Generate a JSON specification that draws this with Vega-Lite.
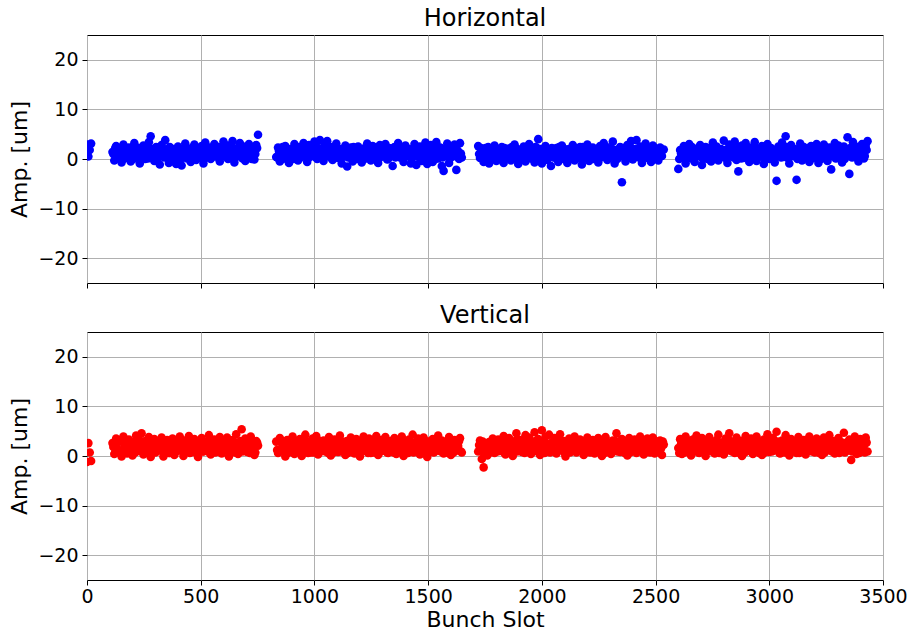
{
"$schema":"https://vega.github.io/schema/vega-lite/v6.json",
"padding":{"left":8,"top":6,"right":0,"bottom":0},
"config":{"font":"DejaVu Sans","view":{"stroke":"black","strokeWidth":1},
"axis":{"gridColor":"#b0b0b0","gridWidth":1,"domainColor":"black","tickColor":"black","labelColor":"black","titleColor":"black","labelFontSize":19,"titleFontSize":22,"titleFontWeight":"normal","tickSize":5,"labelPadding":4,"domain":false,"format":"d","labelFlush":false},
"title":{"fontSize":24,"fontWeight":"normal","color":"black","offset":4,"baseline":"alphabetic"}},
"data":{"values":[
{"x":0,"h":2.9,"v":-1.2},{"x":6,"h":0.5,"v":2.6},{"x":12,"h":1.8,"v":0.7},{"x":18,"h":3.1,"v":-1.0},
{"x":112,"h":1.4,"v":2.6},{"x":120,"h":-0.3,"v":0.4},{"x":128,"h":2.6,"v":3.5},{"x":136,"h":0.6,"v":1.2},{"x":144,"h":1.9,"v":3.1},{"x":152,"h":-0.7,"v":-0.1},{"x":160,"h":2.9,"v":3.9},{"x":168,"h":0.2,"v":1.8},{"x":176,"h":1.6,"v":0.5},{"x":184,"h":2.3,"v":3.3},{"x":192,"h":-0.5,"v":2.2},{"x":200,"h":1.1,"v":0.1},{"x":208,"h":3.2,"v":2.8},{"x":216,"h":0.4,"v":4.1},{"x":224,"h":2.0,"v":1.0},{"x":232,"h":-0.9,"v":2.5},{"x":240,"h":1.5,"v":4.6},{"x":248,"h":2.7,"v":0.3},{"x":256,"h":0.0,"v":3.0},{"x":264,"h":1.8,"v":1.5},{"x":272,"h":3.4,"v":3.8},{"x":280,"h":4.6,"v":-0.2},{"x":288,"h":0.9,"v":2.0},{"x":296,"h":-0.4,"v":3.4},{"x":304,"h":2.4,"v":0.8},{"x":312,"h":1.2,"v":2.7},{"x":320,"h":-1.1,"v":1.3},{"x":328,"h":2.8,"v":3.7},{"x":336,"h":0.5,"v":-0.1},{"x":344,"h":3.8,"v":2.3},{"x":352,"h":1.6,"v":3.2},{"x":360,"h":-0.8,"v":0.6},{"x":368,"h":2.2,"v":1.9},{"x":376,"h":0.3,"v":3.5},{"x":384,"h":1.4,"v":0.2},{"x":392,"h":-1.0,"v":2.9},{"x":400,"h":2.5,"v":1.1},{"x":408,"h":0.7,"v":3.9},{"x":416,"h":-1.3,"v":2.4},{"x":424,"h":1.9,"v":0.0},{"x":432,"h":3.1,"v":3.1},{"x":440,"h":0.1,"v":1.6},{"x":448,"h":2.1,"v":4.0},{"x":456,"h":-0.6,"v":0.7},{"x":464,"h":1.3,"v":2.6},{"x":472,"h":2.9,"v":3.4},{"x":480,"h":-0.2,"v":1.4},{"x":488,"h":1.7,"v":-0.2},{"x":496,"h":0.4,"v":2.1},{"x":504,"h":2.6,"v":3.6},{"x":512,"h":-0.9,"v":0.9},{"x":520,"h":3.3,"v":2.8},{"x":528,"h":1.0,"v":1.7},{"x":536,"h":2.3,"v":4.2},{"x":544,"h":0.0,"v":0.3},{"x":552,"h":1.8,"v":2.4},{"x":560,"h":3.0,"v":3.3},{"x":568,"h":0.6,"v":1.0},{"x":576,"h":2.4,"v":2.0},{"x":584,"h":-0.5,"v":3.8},{"x":592,"h":1.5,"v":0.5},{"x":600,"h":3.5,"v":2.9},{"x":608,"h":0.8,"v":1.5},{"x":616,"h":2.7,"v":3.7},{"x":624,"h":0.2,"v":-0.1},{"x":632,"h":1.9,"v":2.2},{"x":640,"h":3.6,"v":3.2},{"x":648,"h":-0.7,"v":1.2},{"x":656,"h":2.0,"v":4.4},{"x":664,"h":1.1,"v":0.4},{"x":672,"h":3.2,"v":2.7},{"x":680,"h":0.3,"v":5.4},{"x":688,"h":2.5,"v":1.8},{"x":696,"h":-0.4,"v":3.5},{"x":704,"h":1.6,"v":0.8},{"x":712,"h":3.0,"v":2.5},{"x":720,"h":0.6,"v":3.9},{"x":728,"h":2.2,"v":1.3},{"x":736,"h":-0.1,"v":0.2},{"x":744,"h":2.8,"v":3.0},{"x":752,"h":4.9,"v":2.1},
{"x":832,"h":0.4,"v":2.9},{"x":840,"h":2.3,"v":0.6},{"x":848,"h":-0.5,"v":3.6},{"x":856,"h":1.6,"v":1.5},{"x":864,"h":0.1,"v":2.4},{"x":872,"h":2.6,"v":-0.1},{"x":880,"h":1.0,"v":3.2},{"x":888,"h":-0.8,"v":1.1},{"x":896,"h":2.0,"v":2.0},{"x":904,"h":0.7,"v":3.9},{"x":912,"h":3.0,"v":0.4},{"x":920,"h":1.3,"v":2.6},{"x":928,"h":-0.3,"v":1.7},{"x":936,"h":2.4,"v":3.4},{"x":944,"h":0.9,"v":0.0},{"x":952,"h":3.2,"v":2.2},{"x":960,"h":1.7,"v":4.3},{"x":968,"h":-0.6,"v":1.3},{"x":976,"h":2.8,"v":2.9},{"x":984,"h":0.5,"v":0.7},{"x":992,"h":1.9,"v":3.5},{"x":1000,"h":3.5,"v":1.9},{"x":1008,"h":0.3,"v":4.0},{"x":1016,"h":2.2,"v":0.3},{"x":1024,"h":3.8,"v":2.7},{"x":1032,"h":1.1,"v":1.4},{"x":1040,"h":-0.4,"v":3.1},{"x":1048,"h":2.9,"v":0.9},{"x":1056,"h":3.6,"v":2.3},{"x":1064,"h":0.8,"v":3.8},{"x":1072,"h":2.4,"v":0.1},{"x":1080,"h":-0.2,"v":1.8},{"x":1088,"h":1.5,"v":3.3},{"x":1096,"h":3.1,"v":2.5},{"x":1104,"h":0.2,"v":0.8},{"x":1112,"h":2.0,"v":4.1},{"x":1120,"h":-0.9,"v":1.6},{"x":1128,"h":1.4,"v":2.8},{"x":1136,"h":2.7,"v":0.2},{"x":1144,"h":-1.5,"v":3.0},{"x":1152,"h":0.6,"v":1.2},{"x":1160,"h":2.3,"v":3.7},{"x":1168,"h":-0.5,"v":2.1},{"x":1176,"h":1.8,"v":0.5},{"x":1184,"h":0.0,"v":3.4},{"x":1192,"h":2.5,"v":1.9},{"x":1200,"h":1.0,"v":-0.1},{"x":1208,"h":-0.7,"v":2.6},{"x":1216,"h":2.1,"v":3.9},{"x":1224,"h":0.4,"v":1.0},{"x":1232,"h":3.1,"v":2.3},{"x":1240,"h":1.3,"v":3.5},{"x":1248,"h":-0.3,"v":0.6},{"x":1256,"h":2.6,"v":2.9},{"x":1264,"h":0.8,"v":1.5},{"x":1272,"h":1.9,"v":4.0},{"x":1280,"h":-0.8,"v":0.2},{"x":1288,"h":2.8,"v":2.4},{"x":1296,"h":0.5,"v":3.2},{"x":1304,"h":1.7,"v":1.1},{"x":1312,"h":3.0,"v":3.8},{"x":1320,"h":-0.1,"v":0.7},{"x":1328,"h":2.2,"v":2.0},{"x":1336,"h":0.9,"v":3.0},{"x":1344,"h":-1.4,"v":1.3},{"x":1352,"h":2.4,"v":3.6},{"x":1360,"h":1.2,"v":0.4},{"x":1368,"h":3.2,"v":2.6},{"x":1376,"h":0.3,"v":1.7},{"x":1384,"h":1.8,"v":3.9},{"x":1392,"h":-0.6,"v":0.0},{"x":1400,"h":2.7,"v":2.8},{"x":1408,"h":0.6,"v":1.9},{"x":1416,"h":2.0,"v":3.3},{"x":1424,"h":-0.9,"v":0.9},{"x":1432,"h":1.4,"v":4.3},{"x":1440,"h":3.0,"v":2.2},{"x":1448,"h":-1.2,"v":1.0},{"x":1456,"h":0.7,"v":3.5},{"x":1464,"h":2.5,"v":0.3},{"x":1472,"h":-0.4,"v":2.5},{"x":1480,"h":1.6,"v":3.7},{"x":1488,"h":3.3,"v":1.4},{"x":1496,"h":-1.0,"v":-0.2},{"x":1504,"h":0.9,"v":2.9},{"x":1512,"h":2.8,"v":1.8},{"x":1520,"h":-0.6,"v":3.4},{"x":1528,"h":1.9,"v":0.8},{"x":1536,"h":3.4,"v":2.4},{"x":1544,"h":0.1,"v":4.1},{"x":1552,"h":2.3,"v":1.2},{"x":1560,"h":-1.4,"v":3.1},{"x":1568,"h":-2.4,"v":0.5},{"x":1576,"h":1.2,"v":2.7},{"x":1584,"h":3.1,"v":1.6},{"x":1592,"h":-0.8,"v":3.8},{"x":1600,"h":2.0,"v":0.2},{"x":1608,"h":0.5,"v":2.3},{"x":1616,"h":2.9,"v":3.2},{"x":1624,"h":-2.2,"v":1.1},{"x":1632,"h":1.5,"v":2.0},{"x":1640,"h":3.2,"v":3.6},{"x":1648,"h":0.3,"v":0.7},
{"x":1720,"h":2.6,"v":0.9},{"x":1728,"h":0.2,"v":3.1},{"x":1736,"h":1.5,"v":-0.6},{"x":1744,"h":-0.6,"v":-2.3},{"x":1752,"h":2.2,"v":2.2},{"x":1760,"h":0.8,"v":0.1},{"x":1768,"h":-0.9,"v":2.8},{"x":1776,"h":1.9,"v":1.4},{"x":1784,"h":0.3,"v":3.5},{"x":1792,"h":2.7,"v":0.6},{"x":1800,"h":-0.4,"v":2.0},{"x":1808,"h":1.2,"v":3.3},{"x":1816,"h":0.0,"v":1.0},{"x":1824,"h":2.4,"v":2.6},{"x":1832,"h":-0.8,"v":4.0},{"x":1840,"h":1.6,"v":0.3},{"x":1848,"h":0.5,"v":2.4},{"x":1856,"h":2.1,"v":3.6},{"x":1864,"h":-0.3,"v":1.5},{"x":1872,"h":1.0,"v":0.0},{"x":1880,"h":2.9,"v":2.9},{"x":1888,"h":0.4,"v":4.6},{"x":1896,"h":-1.0,"v":1.8},{"x":1904,"h":1.8,"v":3.2},{"x":1912,"h":0.7,"v":0.8},{"x":1920,"h":2.5,"v":2.3},{"x":1928,"h":-0.5,"v":4.2},{"x":1936,"h":1.3,"v":1.2},{"x":1944,"h":3.0,"v":3.7},{"x":1952,"h":0.1,"v":0.4},{"x":1960,"h":1.7,"v":2.7},{"x":1968,"h":-0.7,"v":4.8},{"x":1976,"h":2.3,"v":1.6},{"x":1984,"h":4.0,"v":3.4},{"x":1992,"h":0.6,"v":0.2},{"x":2000,"h":-0.9,"v":5.2},{"x":2008,"h":1.4,"v":2.1},{"x":2016,"h":2.6,"v":3.9},{"x":2024,"h":-0.2,"v":0.9},{"x":2032,"h":0.9,"v":4.3},{"x":2040,"h":-1.4,"v":2.5},{"x":2048,"h":1.8,"v":1.3},{"x":2056,"h":0.3,"v":3.6},{"x":2064,"h":2.2,"v":0.5},{"x":2072,"h":-0.6,"v":2.8},{"x":2080,"h":1.1,"v":4.4},{"x":2088,"h":2.7,"v":1.7},{"x":2096,"h":0.0,"v":3.0},{"x":2104,"h":1.5,"v":-0.1},{"x":2112,"h":-0.8,"v":2.2},{"x":2120,"h":2.0,"v":3.5},{"x":2128,"h":0.7,"v":1.1},{"x":2136,"h":2.8,"v":2.6},{"x":2144,"h":-0.3,"v":3.9},{"x":2152,"h":1.3,"v":0.7},{"x":2160,"h":0.2,"v":2.3},{"x":2168,"h":2.4,"v":3.3},{"x":2176,"h":-1.1,"v":1.4},{"x":2184,"h":1.7,"v":0.2},{"x":2192,"h":0.5,"v":2.9},{"x":2200,"h":2.9,"v":3.7},{"x":2208,"h":-0.4,"v":1.0},{"x":2216,"h":1.0,"v":2.4},{"x":2224,"h":2.3,"v":3.2},{"x":2232,"h":0.1,"v":0.5},{"x":2240,"h":1.9,"v":2.0},{"x":2248,"h":-0.7,"v":3.6},{"x":2256,"h":2.6,"v":1.5},{"x":2264,"h":0.8,"v":0.0},{"x":2272,"h":3.2,"v":2.7},{"x":2280,"h":1.4,"v":3.8},{"x":2288,"h":-0.2,"v":1.2},{"x":2296,"h":2.1,"v":2.5},{"x":2304,"h":0.6,"v":0.4},{"x":2312,"h":3.5,"v":3.1},{"x":2320,"h":-0.9,"v":1.8},{"x":2328,"h":1.6,"v":4.6},{"x":2336,"h":0.3,"v":2.2},{"x":2344,"h":2.4,"v":0.8},{"x":2352,"h":-4.7,"v":3.4},{"x":2360,"h":1.2,"v":1.3},{"x":2368,"h":-0.5,"v":2.9},{"x":2376,"h":2.8,"v":0.1},{"x":2384,"h":0.9,"v":3.6},{"x":2392,"h":3.6,"v":2.0},{"x":2400,"h":-0.1,"v":1.0},{"x":2408,"h":1.8,"v":3.3},{"x":2416,"h":3.8,"v":0.6},{"x":2424,"h":0.4,"v":2.4},{"x":2432,"h":2.5,"v":3.9},{"x":2440,"h":-0.8,"v":1.6},{"x":2448,"h":1.3,"v":0.3},{"x":2456,"h":3.1,"v":2.8},{"x":2464,"h":0.2,"v":3.5},{"x":2472,"h":2.0,"v":1.1},{"x":2480,"h":-0.6,"v":2.2},{"x":2488,"h":2.7,"v":3.7},{"x":2496,"h":0.9,"v":0.5},{"x":2504,"h":1.6,"v":2.6},{"x":2512,"h":-0.3,"v":1.4},{"x":2520,"h":2.3,"v":3.1},{"x":2528,"h":0.6,"v":0.2},{"x":2536,"h":1.9,"v":2.3},
{"x":2600,"h":-2.0,"v":1.6},{"x":2608,"h":1.8,"v":3.4},{"x":2616,"h":0.3,"v":0.4},{"x":2624,"h":2.6,"v":2.5},{"x":2632,"h":-0.9,"v":3.9},{"x":2640,"h":1.4,"v":1.0},{"x":2648,"h":3.0,"v":2.8},{"x":2656,"h":0.1,"v":0.1},{"x":2664,"h":2.2,"v":3.3},{"x":2672,"h":-0.6,"v":1.9},{"x":2680,"h":1.6,"v":4.1},{"x":2688,"h":0.7,"v":0.7},{"x":2696,"h":2.8,"v":2.3},{"x":2704,"h":-1.2,"v":3.6},{"x":2712,"h":1.1,"v":1.3},{"x":2720,"h":2.4,"v":0.0},{"x":2728,"h":0.0,"v":2.9},{"x":2736,"h":1.9,"v":3.8},{"x":2744,"h":-0.5,"v":1.1},{"x":2752,"h":3.3,"v":2.4},{"x":2760,"h":1.0,"v":0.5},{"x":2768,"h":2.5,"v":3.2},{"x":2776,"h":-0.3,"v":4.3},{"x":2784,"h":1.7,"v":1.7},{"x":2792,"h":0.4,"v":2.7},{"x":2800,"h":3.7,"v":0.3},{"x":2808,"h":1.2,"v":3.5},{"x":2816,"h":-0.8,"v":2.0},{"x":2824,"h":2.9,"v":4.6},{"x":2832,"h":0.6,"v":1.2},{"x":2840,"h":2.1,"v":2.6},{"x":2848,"h":3.5,"v":0.6},{"x":2856,"h":-0.2,"v":3.7},{"x":2864,"h":-2.5,"v":1.5},{"x":2872,"h":1.5,"v":3.0},{"x":2880,"h":2.7,"v":0.0},{"x":2888,"h":0.2,"v":2.3},{"x":2896,"h":3.2,"v":4.0},{"x":2904,"h":1.3,"v":1.0},{"x":2912,"h":-0.6,"v":2.8},{"x":2920,"h":2.3,"v":3.5},{"x":2928,"h":0.8,"v":0.4},{"x":2936,"h":3.4,"v":2.1},{"x":2944,"h":-0.4,"v":3.9},{"x":2952,"h":1.8,"v":1.4},{"x":2960,"h":0.5,"v":2.5},{"x":2968,"h":2.6,"v":0.2},{"x":2976,"h":-1.0,"v":3.3},{"x":2984,"h":1.4,"v":1.9},{"x":2992,"h":3.0,"v":4.4},{"x":3000,"h":0.0,"v":0.8},{"x":3008,"h":2.2,"v":2.7},{"x":3016,"h":0.9,"v":3.6},{"x":3024,"h":-0.7,"v":1.2},{"x":3032,"h":-4.4,"v":4.9},{"x":3040,"h":2.5,"v":2.4},{"x":3048,"h":1.1,"v":0.5},{"x":3056,"h":3.3,"v":3.1},{"x":3064,"h":0.4,"v":1.6},{"x":3072,"h":4.6,"v":4.2},{"x":3080,"h":1.7,"v":2.2},{"x":3088,"h":-0.9,"v":0.1},{"x":3096,"h":2.8,"v":3.4},{"x":3104,"h":0.6,"v":1.8},{"x":3112,"h":2.0,"v":2.9},{"x":3120,"h":-4.2,"v":0.6},{"x":3128,"h":1.2,"v":3.8},{"x":3136,"h":3.1,"v":2.0},{"x":3144,"h":-0.3,"v":1.0},{"x":3152,"h":2.4,"v":3.2},{"x":3160,"h":0.8,"v":0.3},{"x":3168,"h":1.9,"v":2.6},{"x":3176,"h":-0.6,"v":3.9},{"x":3184,"h":2.6,"v":1.4},{"x":3192,"h":0.3,"v":2.3},{"x":3200,"h":1.5,"v":0.7},{"x":3208,"h":3.0,"v":3.5},{"x":3216,"h":-0.8,"v":1.7},{"x":3224,"h":2.1,"v":2.8},{"x":3232,"h":0.7,"v":0.2},{"x":3240,"h":2.9,"v":3.7},{"x":3248,"h":1.3,"v":1.1},{"x":3256,"h":-0.4,"v":2.5},{"x":3264,"h":2.3,"v":4.2},{"x":3272,"h":-2.1,"v":1.5},{"x":3280,"h":1.0,"v":3.0},{"x":3288,"h":3.2,"v":0.5},{"x":3296,"h":0.2,"v":2.2},{"x":3304,"h":2.7,"v":3.6},{"x":3312,"h":1.6,"v":1.2},{"x":3320,"h":-0.7,"v":2.7},{"x":3328,"h":2.5,"v":4.7},{"x":3336,"h":0.9,"v":0.9},{"x":3344,"h":4.4,"v":2.4},{"x":3352,"h":-3.0,"v":3.3},{"x":3360,"h":1.8,"v":-0.8},{"x":3368,"h":3.4,"v":1.8},{"x":3376,"h":0.5,"v":3.9},{"x":3384,"h":2.2,"v":0.4},{"x":3392,"h":-0.5,"v":2.6},{"x":3400,"h":1.4,"v":3.4},{"x":3408,"h":3.0,"v":1.3},{"x":3416,"h":0.1,"v":2.1},{"x":3424,"h":2.6,"v":3.7},{"x":3432,"h":3.6,"v":0.9},
{"x":116,"h":1.0,"v":1.8},{"x":124,"h":2.2,"v":0.7},{"x":132,"h":0.3,"v":2.7},{"x":140,"h":1.6,"v":1.2},{"x":148,"h":0.8,"v":3.0},{"x":156,"h":2.4,"v":0.9},{"x":164,"h":0.1,"v":2.2},{"x":172,"h":1.3,"v":1.5},{"x":180,"h":2.0,"v":2.9},{"x":188,"h":0.6,"v":0.6},{"x":196,"h":1.8,"v":2.4},{"x":204,"h":0.0,"v":1.8},{"x":212,"h":1.1,"v":0.7},{"x":220,"h":1.0,"v":2.7},{"x":228,"h":2.2,"v":1.2},{"x":236,"h":0.3,"v":3.0},{"x":244,"h":1.6,"v":0.9},{"x":252,"h":0.8,"v":2.2},{"x":260,"h":2.4,"v":1.5},{"x":268,"h":0.1,"v":2.9},{"x":276,"h":1.3,"v":0.6},{"x":284,"h":2.0,"v":2.4},{"x":292,"h":0.6,"v":1.8},{"x":300,"h":1.8,"v":0.7},{"x":308,"h":0.0,"v":2.7},{"x":316,"h":1.1,"v":1.2},{"x":324,"h":1.0,"v":3.0},{"x":332,"h":2.2,"v":0.9},{"x":340,"h":0.3,"v":2.2},{"x":348,"h":1.6,"v":1.5},{"x":356,"h":0.8,"v":2.9},{"x":364,"h":2.4,"v":0.6},{"x":372,"h":0.1,"v":2.4},{"x":380,"h":1.3,"v":1.8},{"x":388,"h":2.0,"v":0.7},{"x":396,"h":0.6,"v":2.7},{"x":404,"h":1.8,"v":1.2},{"x":412,"h":0.0,"v":3.0},{"x":420,"h":1.1,"v":0.9},{"x":428,"h":1.0,"v":2.2},{"x":436,"h":2.2,"v":1.5},{"x":444,"h":0.3,"v":2.9},{"x":452,"h":1.6,"v":0.6},{"x":460,"h":0.8,"v":2.4},{"x":468,"h":2.4,"v":1.8},{"x":476,"h":0.1,"v":0.7},{"x":484,"h":1.3,"v":2.7},{"x":492,"h":2.0,"v":1.2},{"x":500,"h":0.6,"v":3.0},{"x":508,"h":1.8,"v":0.9},{"x":516,"h":0.0,"v":2.2},{"x":524,"h":1.1,"v":1.5},{"x":532,"h":1.0,"v":2.9},{"x":540,"h":2.2,"v":0.6},{"x":548,"h":0.3,"v":2.4},{"x":556,"h":1.6,"v":1.8},{"x":564,"h":0.8,"v":0.7},{"x":572,"h":2.4,"v":2.7},{"x":580,"h":0.1,"v":1.2},{"x":588,"h":1.3,"v":3.0},{"x":596,"h":2.0,"v":0.9},{"x":604,"h":0.6,"v":2.2},{"x":612,"h":1.8,"v":1.5},{"x":620,"h":0.0,"v":2.9},{"x":628,"h":1.1,"v":0.6},{"x":636,"h":1.0,"v":2.4},{"x":644,"h":2.2,"v":1.8},{"x":652,"h":0.3,"v":0.7},{"x":660,"h":1.6,"v":2.7},{"x":668,"h":0.8,"v":1.2},{"x":676,"h":2.4,"v":3.0},{"x":684,"h":0.1,"v":0.9},{"x":692,"h":1.3,"v":2.2},{"x":700,"h":2.0,"v":1.5},{"x":708,"h":0.6,"v":2.9},{"x":716,"h":1.8,"v":0.6},{"x":724,"h":0.0,"v":2.4},{"x":732,"h":1.1,"v":1.8},{"x":740,"h":1.0,"v":0.7},{"x":748,"h":2.2,"v":2.7},
{"x":836,"h":0.3,"v":1.2},{"x":844,"h":1.6,"v":3.0},{"x":852,"h":0.8,"v":0.9},{"x":860,"h":2.4,"v":2.2},{"x":868,"h":0.1,"v":1.5},{"x":876,"h":1.3,"v":2.9},{"x":884,"h":2.0,"v":0.6},{"x":892,"h":0.6,"v":2.4},{"x":900,"h":1.8,"v":1.8},{"x":908,"h":0.0,"v":0.7},{"x":916,"h":1.1,"v":2.7},{"x":924,"h":1.0,"v":1.2},{"x":932,"h":2.2,"v":3.0},{"x":940,"h":0.3,"v":0.9},{"x":948,"h":1.6,"v":2.2},{"x":956,"h":0.8,"v":1.5},{"x":964,"h":2.4,"v":2.9},{"x":972,"h":0.1,"v":0.6},{"x":980,"h":1.3,"v":2.4},{"x":988,"h":2.0,"v":1.8},{"x":996,"h":0.6,"v":0.7},{"x":1004,"h":1.8,"v":2.7},{"x":1012,"h":0.0,"v":1.2},{"x":1020,"h":1.1,"v":3.0},{"x":1028,"h":1.0,"v":0.9},{"x":1036,"h":2.2,"v":2.2},{"x":1044,"h":0.3,"v":1.5},{"x":1052,"h":1.6,"v":2.9},{"x":1060,"h":0.8,"v":0.6},{"x":1068,"h":2.4,"v":2.4},{"x":1076,"h":0.1,"v":1.8},{"x":1084,"h":1.3,"v":0.7},{"x":1092,"h":2.0,"v":2.7},{"x":1100,"h":0.6,"v":1.2},{"x":1108,"h":1.8,"v":3.0},{"x":1116,"h":0.0,"v":0.9},{"x":1124,"h":1.1,"v":2.2},{"x":1132,"h":1.0,"v":1.5},{"x":1140,"h":2.2,"v":2.9},{"x":1148,"h":0.3,"v":0.6},{"x":1156,"h":1.6,"v":2.4},{"x":1164,"h":0.8,"v":1.8},{"x":1172,"h":2.4,"v":0.7},{"x":1180,"h":0.1,"v":2.7},{"x":1188,"h":1.3,"v":1.2},{"x":1196,"h":2.0,"v":3.0},{"x":1204,"h":0.6,"v":0.9},{"x":1212,"h":1.8,"v":2.2},{"x":1220,"h":0.0,"v":1.5},{"x":1228,"h":1.1,"v":2.9},{"x":1236,"h":1.0,"v":0.6},{"x":1244,"h":2.2,"v":2.4},{"x":1252,"h":0.3,"v":1.8},{"x":1260,"h":1.6,"v":0.7},{"x":1268,"h":0.8,"v":2.7},{"x":1276,"h":2.4,"v":1.2},{"x":1284,"h":0.1,"v":3.0},{"x":1292,"h":1.3,"v":0.9},{"x":1300,"h":2.0,"v":2.2},{"x":1308,"h":0.6,"v":1.5},{"x":1316,"h":1.8,"v":2.9},{"x":1324,"h":0.0,"v":0.6},{"x":1332,"h":1.1,"v":2.4},{"x":1340,"h":1.0,"v":1.8},{"x":1348,"h":2.2,"v":0.7},{"x":1356,"h":0.3,"v":2.7},{"x":1364,"h":1.6,"v":1.2},{"x":1372,"h":0.8,"v":3.0},{"x":1380,"h":2.4,"v":0.9},{"x":1388,"h":0.1,"v":2.2},{"x":1396,"h":1.3,"v":1.5},{"x":1404,"h":2.0,"v":2.9},{"x":1412,"h":0.6,"v":0.6},{"x":1420,"h":1.8,"v":2.4},{"x":1428,"h":0.0,"v":1.8},{"x":1436,"h":1.1,"v":0.7},{"x":1444,"h":1.0,"v":2.7},{"x":1452,"h":2.2,"v":1.2},{"x":1460,"h":0.3,"v":3.0},{"x":1468,"h":1.6,"v":0.9},{"x":1476,"h":0.8,"v":2.2},{"x":1484,"h":2.4,"v":1.5},{"x":1492,"h":0.1,"v":2.9},{"x":1500,"h":1.3,"v":0.6},{"x":1508,"h":2.0,"v":2.4},{"x":1516,"h":0.6,"v":1.8},{"x":1524,"h":1.8,"v":0.7},{"x":1532,"h":0.0,"v":2.7},{"x":1540,"h":1.1,"v":1.2},{"x":1548,"h":1.0,"v":3.0},{"x":1556,"h":2.2,"v":0.9},{"x":1564,"h":0.3,"v":2.2},{"x":1572,"h":1.6,"v":1.5},{"x":1580,"h":0.8,"v":2.9},{"x":1588,"h":2.4,"v":0.6},{"x":1596,"h":0.1,"v":2.4},{"x":1604,"h":1.3,"v":1.8},{"x":1612,"h":2.0,"v":0.7},{"x":1620,"h":0.6,"v":2.7},{"x":1628,"h":1.8,"v":1.2},{"x":1636,"h":0.0,"v":3.0},{"x":1644,"h":1.1,"v":0.9},
{"x":1724,"h":1.0,"v":2.2},{"x":1732,"h":2.2,"v":1.5},{"x":1740,"h":0.3,"v":2.9},{"x":1748,"h":1.6,"v":0.6},{"x":1756,"h":0.8,"v":2.4},{"x":1764,"h":2.4,"v":1.8},{"x":1772,"h":0.1,"v":0.7},{"x":1780,"h":1.3,"v":2.7},{"x":1788,"h":2.0,"v":1.2},{"x":1796,"h":0.6,"v":3.0},{"x":1804,"h":1.8,"v":0.9},{"x":1812,"h":0.0,"v":2.2},{"x":1820,"h":1.1,"v":1.5},{"x":1828,"h":1.0,"v":2.9},{"x":1836,"h":2.2,"v":0.6},{"x":1844,"h":0.3,"v":2.4},{"x":1852,"h":1.6,"v":1.8},{"x":1860,"h":0.8,"v":0.7},{"x":1868,"h":2.4,"v":2.7},{"x":1876,"h":0.1,"v":1.2},{"x":1884,"h":1.3,"v":3.0},{"x":1892,"h":2.0,"v":0.9},{"x":1900,"h":0.6,"v":2.2},{"x":1908,"h":1.8,"v":1.5},{"x":1916,"h":0.0,"v":2.9},{"x":1924,"h":1.1,"v":0.6},{"x":1932,"h":1.0,"v":2.4},{"x":1940,"h":2.2,"v":1.8},{"x":1948,"h":0.3,"v":0.7},{"x":1956,"h":1.6,"v":2.7},{"x":1964,"h":0.8,"v":1.2},{"x":1972,"h":2.4,"v":3.0},{"x":1980,"h":0.1,"v":0.9},{"x":1988,"h":1.3,"v":2.2},{"x":1996,"h":2.0,"v":1.5},{"x":2004,"h":0.6,"v":2.9},{"x":2012,"h":1.8,"v":0.6},{"x":2020,"h":0.0,"v":2.4},{"x":2028,"h":1.1,"v":1.8},{"x":2036,"h":1.0,"v":0.7},{"x":2044,"h":2.2,"v":2.7},{"x":2052,"h":0.3,"v":1.2},{"x":2060,"h":1.6,"v":3.0},{"x":2068,"h":0.8,"v":0.9},{"x":2076,"h":2.4,"v":2.2},{"x":2084,"h":0.1,"v":1.5},{"x":2092,"h":1.3,"v":2.9},{"x":2100,"h":2.0,"v":0.6},{"x":2108,"h":0.6,"v":2.4},{"x":2116,"h":1.8,"v":1.8},{"x":2124,"h":0.0,"v":0.7},{"x":2132,"h":1.1,"v":2.7},{"x":2140,"h":1.0,"v":1.2},{"x":2148,"h":2.2,"v":3.0},{"x":2156,"h":0.3,"v":0.9},{"x":2164,"h":1.6,"v":2.2},{"x":2172,"h":0.8,"v":1.5},{"x":2180,"h":2.4,"v":2.9},{"x":2188,"h":0.1,"v":0.6},{"x":2196,"h":1.3,"v":2.4},{"x":2204,"h":2.0,"v":1.8},{"x":2212,"h":0.6,"v":0.7},{"x":2220,"h":1.8,"v":2.7},{"x":2228,"h":0.0,"v":1.2},{"x":2236,"h":1.1,"v":3.0},{"x":2244,"h":1.0,"v":0.9},{"x":2252,"h":2.2,"v":2.2},{"x":2260,"h":0.3,"v":1.5},{"x":2268,"h":1.6,"v":2.9},{"x":2276,"h":0.8,"v":0.6},{"x":2284,"h":2.4,"v":2.4},{"x":2292,"h":0.1,"v":1.8},{"x":2300,"h":1.3,"v":0.7},{"x":2308,"h":2.0,"v":2.7},{"x":2316,"h":0.6,"v":1.2},{"x":2324,"h":1.8,"v":3.0},{"x":2332,"h":0.0,"v":0.9},{"x":2340,"h":1.1,"v":2.2},{"x":2348,"h":1.0,"v":1.5},{"x":2356,"h":2.2,"v":2.9},{"x":2364,"h":0.3,"v":0.6},{"x":2372,"h":1.6,"v":2.4},{"x":2380,"h":0.8,"v":1.8},{"x":2388,"h":2.4,"v":0.7},{"x":2396,"h":0.1,"v":2.7},{"x":2404,"h":1.3,"v":1.2},{"x":2412,"h":2.0,"v":3.0},{"x":2420,"h":0.6,"v":0.9},{"x":2428,"h":1.8,"v":2.2},{"x":2436,"h":0.0,"v":1.5},{"x":2444,"h":1.1,"v":2.9},{"x":2452,"h":1.0,"v":0.6},{"x":2460,"h":2.2,"v":2.4},{"x":2468,"h":0.3,"v":1.8},{"x":2476,"h":1.6,"v":0.7},{"x":2484,"h":0.8,"v":2.7},{"x":2492,"h":2.4,"v":1.2},{"x":2500,"h":0.1,"v":3.0},{"x":2508,"h":1.3,"v":0.9},{"x":2516,"h":2.0,"v":2.2},{"x":2524,"h":0.6,"v":1.5},{"x":2532,"h":1.8,"v":2.9},
{"x":2604,"h":0.0,"v":0.6},{"x":2612,"h":1.1,"v":2.4},{"x":2620,"h":1.0,"v":1.8},{"x":2628,"h":2.2,"v":0.7},{"x":2636,"h":0.3,"v":2.7},{"x":2644,"h":1.6,"v":1.2},{"x":2652,"h":0.8,"v":3.0},{"x":2660,"h":2.4,"v":0.9},{"x":2668,"h":0.1,"v":2.2},{"x":2676,"h":1.3,"v":1.5},{"x":2684,"h":2.0,"v":2.9},{"x":2692,"h":0.6,"v":0.6},{"x":2700,"h":1.8,"v":2.4},{"x":2708,"h":0.0,"v":1.8},{"x":2716,"h":1.1,"v":0.7},{"x":2724,"h":1.0,"v":2.7},{"x":2732,"h":2.2,"v":1.2},{"x":2740,"h":0.3,"v":3.0},{"x":2748,"h":1.6,"v":0.9},{"x":2756,"h":0.8,"v":2.2},{"x":2764,"h":2.4,"v":1.5},{"x":2772,"h":0.1,"v":2.9},{"x":2780,"h":1.3,"v":0.6},{"x":2788,"h":2.0,"v":2.4},{"x":2796,"h":0.6,"v":1.8},{"x":2804,"h":1.8,"v":0.7},{"x":2812,"h":0.0,"v":2.7},{"x":2820,"h":1.1,"v":1.2},{"x":2828,"h":1.0,"v":3.0},{"x":2836,"h":2.2,"v":0.9},{"x":2844,"h":0.3,"v":2.2},{"x":2852,"h":1.6,"v":1.5},{"x":2860,"h":0.8,"v":2.9},{"x":2868,"h":2.4,"v":0.6},{"x":2876,"h":0.1,"v":2.4},{"x":2884,"h":1.3,"v":1.8},{"x":2892,"h":2.0,"v":0.7},{"x":2900,"h":0.6,"v":2.7},{"x":2908,"h":1.8,"v":1.2},{"x":2916,"h":0.0,"v":3.0},{"x":2924,"h":1.1,"v":0.9},{"x":2932,"h":1.0,"v":2.2},{"x":2940,"h":2.2,"v":1.5},{"x":2948,"h":0.3,"v":2.9},{"x":2956,"h":1.6,"v":0.6},{"x":2964,"h":0.8,"v":2.4},{"x":2972,"h":2.4,"v":1.8},{"x":2980,"h":0.1,"v":0.7},{"x":2988,"h":1.3,"v":2.7},{"x":2996,"h":2.0,"v":1.2},{"x":3004,"h":0.6,"v":3.0},{"x":3012,"h":1.8,"v":0.9},{"x":3020,"h":0.0,"v":2.2},{"x":3028,"h":1.1,"v":1.5},{"x":3036,"h":1.0,"v":2.9},{"x":3044,"h":2.2,"v":0.6},{"x":3052,"h":0.3,"v":2.4},{"x":3060,"h":1.6,"v":1.8},{"x":3068,"h":0.8,"v":0.7},{"x":3076,"h":2.4,"v":2.7},{"x":3084,"h":0.1,"v":1.2},{"x":3092,"h":1.3,"v":3.0},{"x":3100,"h":2.0,"v":0.9},{"x":3108,"h":0.6,"v":2.2},{"x":3116,"h":1.8,"v":1.5},{"x":3124,"h":0.0,"v":2.9},{"x":3132,"h":1.1,"v":0.6},{"x":3140,"h":1.0,"v":2.4},{"x":3148,"h":2.2,"v":1.8},{"x":3156,"h":0.3,"v":0.7},{"x":3164,"h":1.6,"v":2.7},{"x":3172,"h":0.8,"v":1.2},{"x":3180,"h":2.4,"v":3.0},{"x":3188,"h":0.1,"v":0.9},{"x":3196,"h":1.3,"v":2.2},{"x":3204,"h":2.0,"v":1.5},{"x":3212,"h":0.6,"v":2.9},{"x":3220,"h":1.8,"v":0.6},{"x":3228,"h":0.0,"v":2.4},{"x":3236,"h":1.1,"v":1.8},{"x":3244,"h":1.0,"v":0.7},{"x":3252,"h":2.2,"v":2.7},{"x":3260,"h":0.3,"v":1.2},{"x":3268,"h":1.6,"v":3.0},{"x":3276,"h":0.8,"v":0.9},{"x":3284,"h":2.4,"v":2.2},{"x":3292,"h":0.1,"v":1.5},{"x":3300,"h":1.3,"v":2.9},{"x":3308,"h":2.0,"v":0.6},{"x":3316,"h":0.6,"v":2.4},{"x":3324,"h":1.8,"v":1.8},{"x":3332,"h":0.0,"v":0.7},{"x":3340,"h":1.1,"v":2.7},{"x":3348,"h":1.0,"v":1.2},{"x":3356,"h":2.2,"v":3.0},{"x":3364,"h":0.3,"v":0.9},{"x":3372,"h":1.6,"v":2.2},{"x":3380,"h":0.8,"v":1.5},{"x":3388,"h":2.4,"v":2.9},{"x":3396,"h":0.1,"v":0.6},{"x":3404,"h":1.3,"v":2.4},{"x":3412,"h":2.0,"v":1.8},{"x":3420,"h":0.6,"v":0.7},{"x":3428,"h":1.8,"v":2.7}
]},
"spacing":14,
"vconcat":[
{"width":796,"height":248,"title":"Horizontal",
"mark":{"type":"circle","size":74,"color":"#0000ff","opacity":1,"clip":true},
"encoding":{
"x":{"field":"x","type":"quantitative","scale":{"domain":[0,3500],"nice":false,"zero":false},"axis":{"labels":false,"title":null,"values":[0,500,1000,1500,2000,2500,3000,3500]}},
"y":{"field":"h","type":"quantitative","scale":{"domain":[-25,25],"nice":false},"axis":{"title":"Amp. [um]","values":[-20,-10,0,10,20],"titlePadding":6}}}},
{"width":796,"height":248,"title":"Vertical",
"mark":{"type":"circle","size":74,"color":"#ff0000","opacity":1,"clip":true},
"encoding":{
"x":{"field":"x","type":"quantitative","scale":{"domain":[0,3500],"nice":false,"zero":false},"axis":{"title":"Bunch Slot","values":[0,500,1000,1500,2000,2500,3000,3500],"labelPadding":2,"titlePadding":3}},
"y":{"field":"v","type":"quantitative","scale":{"domain":[-25,25],"nice":false},"axis":{"title":"Amp. [um]","values":[-20,-10,0,10,20],"titlePadding":6}}}}
]
}
